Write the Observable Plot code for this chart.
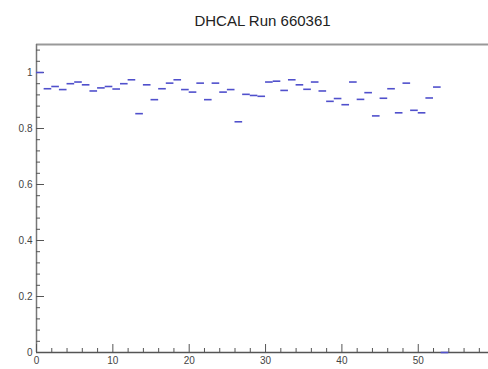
<!DOCTYPE html>
<html>
<head>
<meta charset="utf-8">
<script src="https://cdn.jsdelivr.net/npm/d3@7"></script>
<script src="https://cdn.jsdelivr.net/npm/@observablehq/plot@0.6"></script>
<style>
  html, body { margin: 0; padding: 0; background: #fff; }
  #chart svg { display: block; }
</style>
</head>
<body>
<div id="chart"></div>
<script>
const title = "DHCAL Run 660361";
const bins = [0,1,2,3,4,5,6,7,8,9,10,11,12,13,14,15,16,17,18,19,20,21,22,23,24,25,26,27,28,29,30,31,32,33,34,35,36,37,38,39,40,41,42,43,44,45,46,47,48,49,50,51,52,53];
const values = [1.0,0.942,0.950,0.939,0.960,0.966,0.956,0.934,0.945,0.950,0.941,0.960,0.974,0.853,0.956,0.903,0.942,0.962,0.974,0.939,0.930,0.962,0.903,0.962,0.930,0.939,0.824,0.922,0.918,0.915,0.966,0.969,0.936,0.974,0.956,0.940,0.966,0.934,0.897,0.907,0.885,0.966,0.904,0.928,0.845,0.908,0.942,0.856,0.962,0.865,0.856,0.909,0.948,0.0];
const xMajor = [0, 10, 20, 30, 40, 50];
const xMinor = [2,4,6,8,12,14,16,18,22,24,26,28,32,34,36,38,42,44,46,48,52,54,56,58];
const yMajor = [0, 0.2, 0.4, 0.6, 0.8, 1];
const yMinor = [0.04,0.08,0.12,0.16,0.24,0.28,0.32,0.36,0.44,0.48,0.52,0.56,0.64,0.68,0.72,0.76,0.84,0.88,0.92,0.96,1.04,1.08];

const data = bins.map((b, i) => ({bin: b, v: values[i]}));
const axisColor = "#555";

const chart = Plot.plot({
  width: 488,
  height: 369,
  marginLeft: 36,
  marginRight: 0,
  marginTop: 44,
  marginBottom: 17,
  style: {fontFamily: "'Liberation Sans', Arial, sans-serif", fontSize: "10px", color: "#444", background: "#fff"},
  x: {domain: [0, 59.2], label: null},
  y: {domain: [0, 1.1], label: null},
  marks: [
    Plot.ruleY([1.1], {stroke: "#999", strokeWidth: 2}),
    Plot.ruleX([0], {stroke: "#777", strokeWidth: 1.5}),
    Plot.ruleY([0], {stroke: "#555", strokeWidth: 1.5}),
    Plot.axisY({ticks: yMajor, tickSize: -8, tickFormat: () => "", stroke: axisColor, label: null}),
    Plot.axisY({ticks: yMinor, tickSize: -4, tickFormat: () => "", stroke: axisColor, label: null}),
    Plot.axisY({ticks: yMajor, tickSize: 0, tickPadding: 4, tickFormat: d => String(d), fill: "#444", label: null}),
    Plot.axisX({ticks: xMajor, tickSize: -8, tickFormat: () => "", stroke: axisColor, label: null}),
    Plot.axisX({ticks: xMinor, tickSize: -4, tickFormat: () => "", stroke: axisColor, label: null}),
    Plot.axisX({ticks: xMajor, tickSize: 0, tickPadding: 4, tickFormat: d => String(d), fill: "#444", label: null}),
    Plot.ruleY(data, {x1: "bin", x2: d => d.bin + 1, y: "v", stroke: "#5050cc", strokeWidth: 1.6}),
    Plot.text([title], {frameAnchor: "top", dy: -29, fontSize: 15, fill: "#222", text: d => d})
  ]
});
document.getElementById("chart").appendChild(chart);
</script>
</body>
</html>
